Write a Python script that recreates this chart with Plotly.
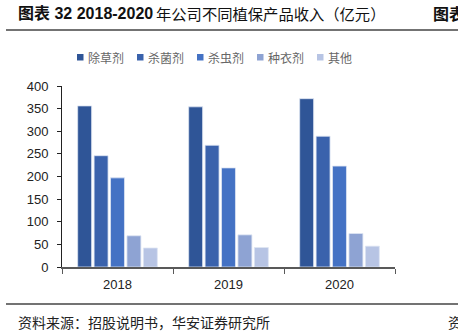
import plotly.graph_objects as go

years = ["2018", "2019", "2020"]
series_names = ["除草剂", "杀菌剂", "杀虫剂", "种衣剂", "其他"]
herbicide = [356, 354, 372]
fungicide = [246, 269, 289]
insecticide = [197, 219, 223]
seed_coating = [69, 71, 74]
other = [42, 43, 46]
series_values = [herbicide, fungicide, insecticide, seed_coating, other]
colors = ["#2F5597", "#3A62AC", "#4472C4", "#8EA3D3", "#B7C4E4"]
y_ticks = [0, 50, 100, 150, 200, 250, 300, 350, 400]

L, R, T, B, W, H = 62, 63, 86, 66, 458, 333
PW, PH = W - L - R, H - T - B


def px(x):
    return (x - L) / PW


def py(y):
    return (H - B - y) / PH


fig = go.Figure()
for name, vals, c in zip(series_names, series_values, colors):
    fig.add_trace(go.Bar(
        x=years, y=vals, name=name, showlegend=False,
        marker=dict(color=c, line=dict(color="#DDE4F2", width=0.8)),
    ))

cjk = "Noto Sans CJK SC"
fig.update_layout(
    width=W, height=H,
    margin=dict(l=L, r=R, t=T, b=B),
    paper_bgcolor="white", plot_bgcolor="white",
    barmode="group", bargap=0.26, bargroupgap=0.15,
    xaxis=dict(
        showline=True, linecolor="#595959", linewidth=2,
        ticks="outside", tickson="boundaries", ticklen=5, tickcolor="#595959",
        ticklabelstandoff=4,
        tickfont=dict(family="Liberation Sans, Arial", size=13, color="#222"),
        showgrid=False, zeroline=False,
    ),
    yaxis=dict(
        range=[0, 400], tickvals=y_ticks,
        showline=True, linecolor="#222", linewidth=1,
        ticks="outside", ticklen=4, tickcolor="#222",
        ticklabelstandoff=6,
        tickfont=dict(family="Liberation Sans, Arial", size=13, color="#222"),
        showgrid=False, zeroline=False,
    ),
)

# legend drawn as squares + labels
for i, (name, c) in enumerate(zip(series_names, colors)):
    x0 = 77 + 60 * i
    fig.add_shape(
        type="rect", xref="paper", yref="paper",
        x0=px(x0), x1=px(x0 + 6.5), y0=py(60.5), y1=py(54),
        fillcolor=c, line=dict(width=0),
    )
    fig.add_annotation(
        xref="paper", yref="paper", x=px(x0 + 9), y=py(57),
        xanchor="left", yanchor="middle", showarrow=False,
        text=name, font=dict(family=cjk, size=12, color="#666"),
    )

fig.add_annotation(
    xref="paper", yref="paper", x=px(16), y=py(13),
    xanchor="left", yanchor="middle", showarrow=False,
    text="<b>图表 32 2018-2020</b>",
    font=dict(family="Liberation Sans, " + cjk, size=16, color="#111"),
)
fig.add_annotation(
    xref="paper", yref="paper", x=px(154), y=py(13),
    xanchor="left", yanchor="middle", showarrow=False,
    text="年公司不同植保产品收入（亿元）",
    font=dict(family=cjk, size=15.3, color="#111"),
)
fig.add_annotation(
    xref="paper", yref="paper", x=px(431), y=py(13),
    xanchor="left", yanchor="middle", showarrow=False,
    text="<b>图表</b>",
    font=dict(family=cjk, size=16, color="#111"),
)
fig.add_annotation(
    xref="paper", yref="paper", x=px(16), y=py(322),
    xanchor="left", yanchor="middle", showarrow=False,
    text="资料来源：招股说明书，华安证券研究所",
    font=dict(family=cjk, size=14, color="#222"),
)
fig.add_annotation(
    xref="paper", yref="paper", x=px(446), y=py(322),
    xanchor="left", yanchor="middle", showarrow=False,
    text="资",
    font=dict(family=cjk, size=14, color="#222"),
)
for yy in (30, 304):
    fig.add_shape(
        type="line", xref="paper", yref="paper",
        x0=px(6), x1=px(458), y0=py(yy), y1=py(yy),
        line=dict(color="#444", width=1.5),
    )

fig.write_html("out.html")
